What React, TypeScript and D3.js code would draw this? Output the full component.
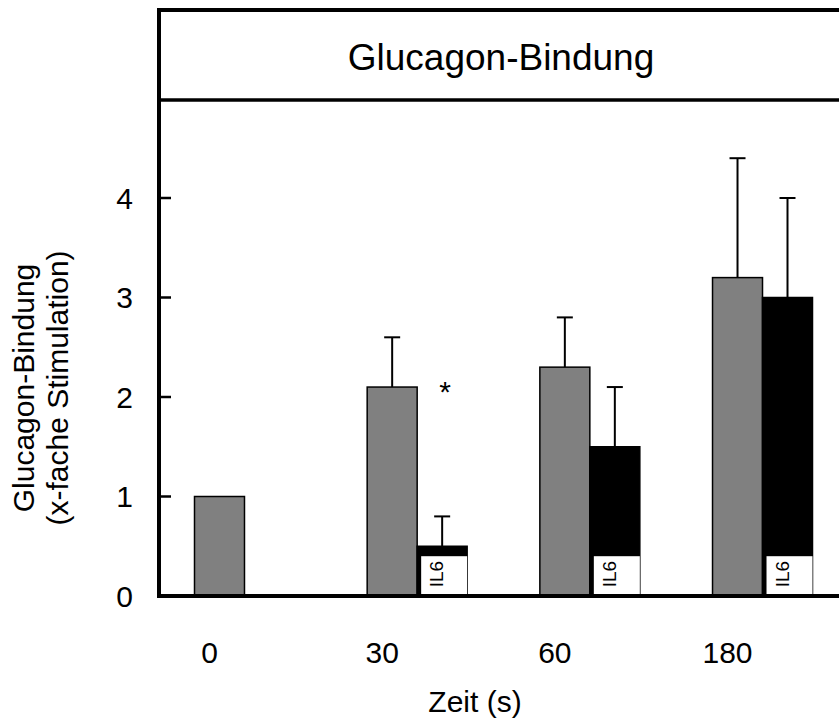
import React from 'react';
import * as d3 from 'd3';

// Time points (s) and fold stimulation of glucagon binding
const categories = ['0', '30', '60', '180'];
const controlValues = [1.0, 2.1, 2.3, 3.2];
const controlErrors = [0, 0.5, 0.5, 1.2];
const il6Values = [0, 0.5, 1.5, 3.0];
const il6Errors = [0, 0.3, 0.6, 1.0];
const significant = [false, true, false, false];
const yTicks = [0, 1, 2, 3, 4];
const seriesKeys = ['control', 'il6'];

const FONT = '"Liberation Sans", Arial, Helvetica, sans-serif';

export default function App() {
  const W = 839;
  const H = 719;
  const axisX = 159;
  const frameTop = 10;
  const headerY = 100;
  const rightEdge = W + 10;

  const x = d3
    .scaleBand<string>()
    .domain(categories)
    .range([194.5, 812.5])
    .paddingInner(0.421)
    .paddingOuter(0);
  const inner = d3.scaleBand<string>().domain(seriesKeys).range([0, x.bandwidth()]);
  const y = d3.scaleLinear().domain([0, 5]).range([596, 98.5]);
  const labelOffset = -35;

  const groups = categories.map((c, i) => ({
    cat: c,
    bars: [
      { key: 'control', value: controlValues[i], err: controlErrors[i] },
      { key: 'il6', value: il6Values[i], err: il6Errors[i] },
    ],
    sig: significant[i],
  }));

  const capW = 16;
  const il6BoxH = y(0) - y(0.4);

  return (
    <svg
      width={W}
      height={H}
      style={{ position: 'absolute', left: 0, top: 0, background: '#fff' }}
      fontFamily={FONT}
    >
      <rect x={0} y={0} width={W} height={H} fill="#fff" />

      {/* bars */}
      {groups.map((g) => (
        <g key={g.cat} transform={`translate(${x(g.cat)},0)`}>
          {g.bars.map((b) => {
            if (b.value <= 0) return null;
            const bx = inner(b.key)!;
            const bw = inner.bandwidth();
            const isCtrl = b.key === 'control';
            return (
              <g key={b.key}>
                {b.err > 0 && (
                  <g stroke="#000" strokeWidth={2}>
                    <line x1={bx + bw / 2} x2={bx + bw / 2} y1={y(b.value)} y2={y(b.value + b.err)} />
                    <line
                      x1={bx + bw / 2 - capW / 2}
                      x2={bx + bw / 2 + capW / 2}
                      y1={y(b.value + b.err)}
                      y2={y(b.value + b.err)}
                    />
                  </g>
                )}
                <rect
                  x={bx}
                  y={y(b.value)}
                  width={bw}
                  height={y(0) - y(b.value)}
                  fill={isCtrl ? '#808080' : '#000'}
                  stroke="#000"
                  strokeWidth={1.5}
                />
                {!isCtrl && (
                  <g>
                    <rect x={bx + 4} y={y(0) - il6BoxH} width={bw - 4} height={il6BoxH} fill="#fff" />
                    <text
                      transform={`translate(${bx + bw / 2 + 1},${y(0) - il6BoxH / 2 - 2}) rotate(-90)`}
                      textAnchor="middle"
                      fontSize={19}
                      fill="#000"
                    >
                      IL6
                    </text>
                  </g>
                )}
              </g>
            );
          })}
          {g.sig && (
            <text
              x={inner('il6')! + inner.bandwidth() / 2 + 3}
              y={y(g.bars[0].value) + 15}
              textAnchor="middle"
              fontSize={30}
              fill="#000"
            >
              *
            </text>
          )}
        </g>
      ))}

      {/* frame: top border, header separator, y axis, baseline */}
      <g stroke="#000" fill="none">
        <line x1={axisX - 2} x2={rightEdge} y1={frameTop} y2={frameTop} strokeWidth={4} />
        <line x1={axisX - 2} x2={rightEdge} y1={headerY} y2={headerY} strokeWidth={3.5} />
        <line x1={axisX} x2={axisX} y1={frameTop - 2} y2={y(0) + 2} strokeWidth={4} />
        <line x1={axisX - 2} x2={rightEdge} y1={y(0)} y2={y(0)} strokeWidth={4} />
      </g>

      {/* y ticks and labels */}
      {yTicks.map((t) => (
        <g key={t}>
          {t > 0 && <line x1={axisX} x2={axisX + 12} y1={y(t)} y2={y(t)} stroke="#000" strokeWidth={2.5} />}
          <text x={133} y={y(t)} dy="0.36em" textAnchor="end" fontSize={30} fill="#000">
            {t}
          </text>
        </g>
      ))}

      {/* x category labels */}
      {categories.map((c) => (
        <text
          key={c}
          x={x(c)! + x.bandwidth() / 2 + labelOffset}
          y={663}
          textAnchor="middle"
          fontSize={30}
          fill="#000"
        >
          {c}
        </text>
      ))}

      {/* header title */}
      <text x={501} y={70} textAnchor="middle" fontSize={37} fill="#000">
        Glucagon-Bindung
      </text>

      {/* axis titles */}
      <text x={475} y={712} textAnchor="middle" fontSize={30} fill="#000">
        Zeit (s)
      </text>
      <g transform="translate(0,388) rotate(-90)">
        <text x={0} y={34} textAnchor="middle" fontSize={30} fill="#000">
          Glucagon-Bindung
        </text>
        <text x={0} y={68} textAnchor="middle" fontSize={30} fill="#000">
          (x-fache Stimulation)
        </text>
      </g>
    </svg>
  );
}
